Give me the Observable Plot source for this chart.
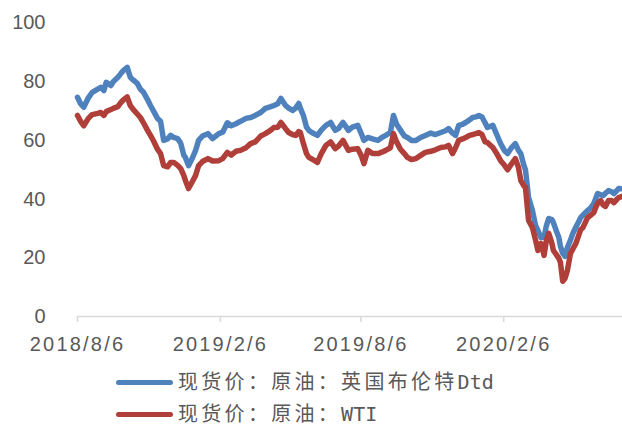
<!DOCTYPE html>
<html>
<head>
<meta charset="utf-8">
<script src="https://cdn.jsdelivr.net/npm/d3@7"></script>
<script src="https://cdn.jsdelivr.net/npm/@observablehq/plot@0.6"></script>
<style>
  html, body { margin: 0; padding: 0; background: #fff; }
  #chart svg { display: block; }
  #chart g[aria-label="x-axis tick label"] { letter-spacing: 2.2px; }
  .legend { margin-top: 11px; }
  .row { height: 32px; display: flex; align-items: center; }
  .sw { margin-left: 116px; width: 57px; height: 5px; border-radius: 3px; }
  .lab { margin-left: 5px; color: #595959; white-space: nowrap; line-height: 22px; }
  .cjk { font-family: "Noto Sans CJK SC", sans-serif; font-size: 20px; letter-spacing: 3.3px; }
  .lat { font-family: "DejaVu Sans Mono", monospace; font-size: 20px; }
</style>
</head>
<body>
<div id="chart"></div>
<div class="legend">
  <div class="row"><div class="sw" id="sw0"></div><div class="lab"><span class="cjk" id="n0a"></span><span class="lat" id="n0b"></span></div></div>
  <div class="row"><div class="sw" id="sw1"></div><div class="lab"><span class="cjk" id="n1a"></span><span class="lat" id="n1b"></span></div></div>
</div>
<script>
const dates = ["2018-08-06","2018-08-10","2018-08-14","2018-08-20","2018-08-25","2018-09-01","2018-09-05","2018-09-09","2018-09-12","2018-09-18","2018-09-21","2018-09-27","2018-09-30","2018-10-04","2018-10-09","2018-10-13","2018-10-17","2018-10-22","2018-10-26","2018-10-30","2018-11-04","2018-11-08","2018-11-12","2018-11-17","2018-11-21","2018-11-25","2018-11-30","2018-12-04","2018-12-08","2018-12-13","2018-12-17","2018-12-21","2018-12-23","2018-12-27","2019-01-01","2019-01-05","2019-01-09","2019-01-14","2019-01-21","2019-01-27","2019-02-04","2019-02-09","2019-02-15","2019-02-20","2019-02-26","2019-03-04","2019-03-11","2019-03-17","2019-03-23","2019-03-30","2019-04-05","2019-04-12","2019-04-16","2019-04-21","2019-04-25","2019-05-01","2019-05-05","2019-05-10","2019-05-14","2019-05-18","2019-05-20","2019-05-24","2019-05-28","2019-05-31","2019-06-05","2019-06-11","2019-06-16","2019-06-22","2019-06-28","2019-07-04","2019-07-08","2019-07-14","2019-07-21","2019-07-26","2019-08-02","2019-08-07","2019-08-10","2019-08-15","2019-08-21","2019-08-28","2019-09-02","2019-09-07","2019-09-13","2019-09-17","2019-09-21","2019-09-26","2019-10-01","2019-10-05","2019-10-10","2019-10-16","2019-10-22","2019-10-28","2019-11-04","2019-11-10","2019-11-17","2019-11-23","2019-11-27","2019-12-02","2019-12-06","2019-12-10","2019-12-15","2019-12-19","2019-12-24","2019-12-28","2020-01-01","2020-01-05","2020-01-09","2020-01-13","2020-01-16","2020-01-23","2020-01-28","2020-02-02","2020-02-07","2020-02-11","2020-02-16","2020-02-21","2020-02-25","2020-02-28","2020-03-03","2020-03-05","2020-03-09","2020-03-14","2020-03-18","2020-03-21","2020-03-25","2020-03-29","2020-04-01","2020-04-04","2020-04-08","2020-04-10","2020-04-14","2020-04-17","2020-04-19","2020-04-22","2020-04-25","2020-04-28","2020-05-02","2020-05-05","2020-05-09","2020-05-13","2020-05-15","2020-05-18","2020-05-24","2020-05-28","2020-06-01","2020-06-04","2020-06-06","2020-06-10","2020-06-13","2020-06-16","2020-06-20","2020-06-24","2020-06-27","2020-07-01","2020-07-03","2020-07-07"];

const brent = [74.7,72.5,71.3,74.5,76.4,77.5,78.1,77.0,79.8,78.7,80.0,81.5,82.5,83.8,84.9,81.5,80.5,79.4,77.5,76.4,74.0,71.9,70.0,67.5,66.5,60.0,60.5,61.7,61.0,60.6,59.0,54.9,54.2,51.4,54.0,56.5,60.0,61.5,62.3,60.6,62.3,62.8,66.0,65.0,65.7,66.5,67.5,67.8,68.5,69.5,70.9,71.5,71.9,72.5,74.3,71.9,71.0,70.2,71.0,72.6,71.0,68.5,64.5,63.4,62.5,61.7,63.5,65.1,66.1,63.4,64.0,66.1,63.4,64.5,65.1,62.0,60.0,61.0,60.5,60.0,61.0,61.7,62.7,68.5,65.5,63.5,61.5,61.0,60.0,60.0,61.0,61.7,62.5,62.0,62.7,63.3,64.0,62.5,61.7,65.1,65.5,66.1,67.0,67.8,68.0,68.5,68.0,66.0,64.4,65.1,62.0,58.9,56.5,55.5,57.5,58.9,56.6,55.5,51.5,50.0,40.5,36.1,31.0,29.3,26.9,27.0,31.0,33.4,33.0,32.0,29.0,26.9,24.0,21.5,20.5,23.5,26.0,28.3,30.5,32.5,33.7,34.5,36.1,37.0,38.5,40.5,41.9,41.5,41.2,42.0,42.9,42.5,41.9,43.0,43.6,43.5];

const wti = [68.5,66.5,65.0,67.5,68.8,69.2,69.5,68.5,69.8,70.5,70.9,71.5,72.6,73.8,74.8,71.9,70.5,69.0,67.8,66.0,63.5,61.7,59.8,57.0,55.5,51.4,51.0,52.5,52.5,51.5,50.4,48.0,46.3,43.6,46.0,48.0,51.4,52.8,53.8,53.0,53.1,53.8,55.9,55.0,56.3,56.6,57.5,58.9,59.5,61.5,62.3,63.5,64.4,64.5,66.1,64.0,62.7,62.0,61.7,63.0,62.7,58.9,55.5,54.2,53.5,52.5,55.5,58.3,59.5,57.2,58.0,60.0,56.6,57.0,57.2,54.5,52.1,56.6,55.5,55.5,56.0,56.6,57.5,62.3,59.5,57.0,55.5,54.2,53.5,53.8,54.9,55.9,56.3,56.8,57.6,57.8,58.3,55.5,57.5,60.0,60.5,61.0,61.7,62.0,62.3,62.7,62.0,59.5,59.3,57.6,55.5,53.1,51.5,50.0,52.0,53.8,50.8,46.3,44.5,44.0,32.7,30.3,26.0,22.5,24.9,20.8,26.0,28.3,25.0,22.5,21.0,19.8,18.5,12.0,13.0,15.7,21.5,23.0,24.9,28.0,29.5,30.3,33.7,34.5,35.4,37.5,38.5,39.5,38.0,37.5,39.5,39.5,38.8,40.0,40.5,40.9];

const seriesNames = ["现货价：原油：英国布伦特Dtd", "现货价：原油：WTI"];
const seriesColors = ["#4f81bd", "#b03f3a"];
const xTicks = ["2018-08-06", "2019-02-06", "2019-08-06", "2020-02-06"];
const yTicks = [0, 20, 40, 60, 80, 100];
const xDomain = ["2018-08-06", "2020-07-08"];

const parse = d3.utcParse("%Y-%m-%d");
const rows = [];
dates.forEach((d, i) => {
  rows.push({date: parse(d), value: brent[i], series: seriesNames[0]});
  rows.push({date: parse(d), value: wti[i], series: seriesNames[1]});
});

const chart = Plot.plot({
  width: 622,
  height: 355,
  marginLeft: 77,
  marginRight: 0,
  marginTop: 22.5,
  marginBottom: 39,
  style: {fontFamily: "'Liberation Sans', Arial, sans-serif", fontSize: "20px", color: "#595959", background: "#fff"},
  x: {type: "utc", domain: xDomain.map(parse), axis: null, label: null},
  y: {domain: [0, 100], axis: null, label: null},
  color: {domain: seriesNames, range: seriesColors},
  marks: [
    Plot.axisY({ticks: yTicks, tickSize: 0, tickPadding: 32, fill: "#595959", fontSize: 20, label: null}),
    Plot.axisX({ticks: xTicks.map(parse), tickFormat: d3.utcFormat("%Y/%-m/%-d"), tickSize: 6, tickPadding: 14, stroke: "#d9d9d9", strokeWidth: 1.5, fill: "#595959", fontSize: 20, label: null}),
    Plot.ruleY([0], {stroke: "#d9d9d9", strokeWidth: 1.5}),
    Plot.line(rows, {x: "date", y: "value", z: "series", stroke: "series", strokeWidth: 5.5, strokeLinejoin: "round", strokeLinecap: "round"})
  ]
});
document.getElementById("chart").appendChild(chart);

[0, 1].forEach(i => {
  document.getElementById("sw" + i).style.background = seriesColors[i];
  const name = seriesNames[i];
  const m = name.match(/^(.*?)([A-Za-z]+)$/);
  document.getElementById("n" + i + "a").textContent = m[1];
  document.getElementById("n" + i + "b").textContent = m[2];
});
</script>
</body>
</html>
